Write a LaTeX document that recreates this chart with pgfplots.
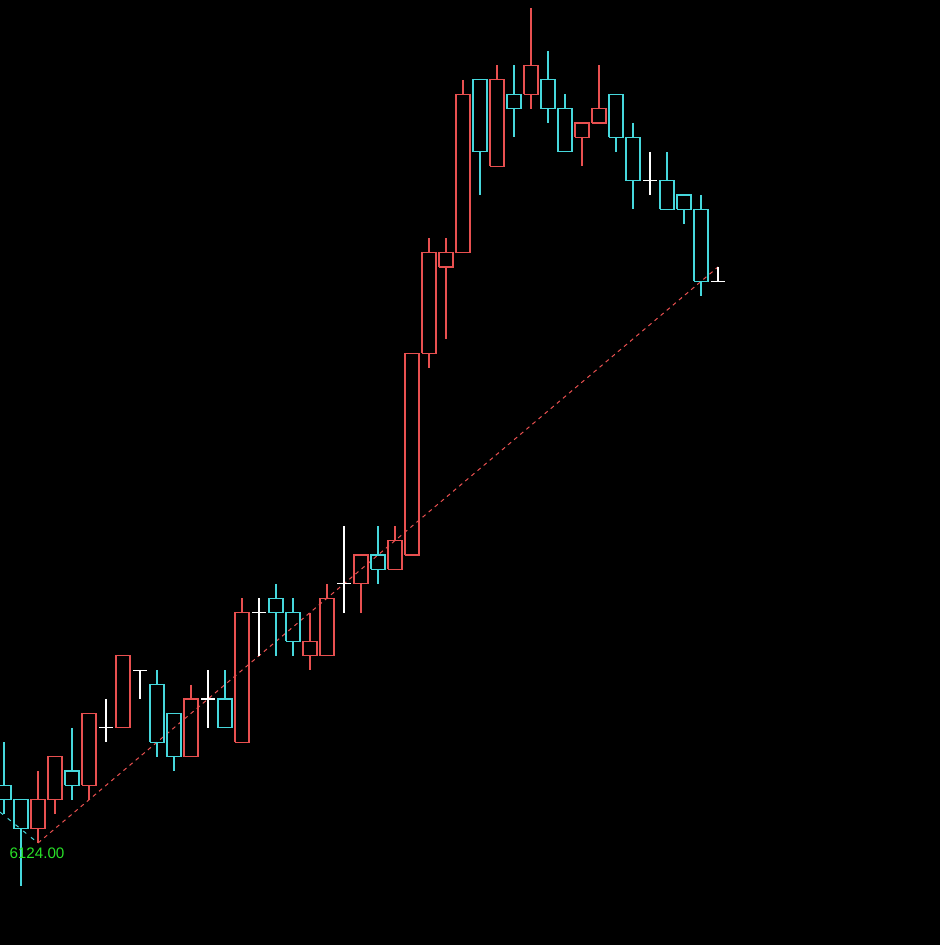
\documentclass[border=0pt]{standalone}
\usepackage{pgfplots}
\usepackage{pgfplotstable}
\pgfplotsset{compat=1.18}
\usepackage{fontspec}
\setmainfont{Liberation Sans}
\definecolor{cred}{RGB}{232,80,80}
\definecolor{ccyan}{RGB}{70,215,220}
\definecolor{cgreen}{RGB}{40,225,40}
\pgfplotstableread{
i o h l c
0 6132 6138 6128 6130
1 6130 6130 6118 6126
2 6126 6134 6124 6130
3 6130 6136 6128 6136
4 6134 6140 6130 6132
5 6132 6142 6130 6142
6 6140 6144 6138 6140
7 6140 6150 6140 6150
8 6148 6148 6144 6148
9 6146 6148 6136 6138
10 6142 6142 6134 6136
11 6136 6146 6136 6144
12 6144 6148 6140 6144
13 6144 6148 6140 6140
14 6138 6158 6138 6156
15 6156 6158 6150 6156
16 6158 6160 6150 6156
17 6156 6158 6150 6152
18 6150 6156 6148 6152
19 6150 6160 6150 6158
20 6160 6168 6156 6160
21 6160 6164 6156 6164
22 6164 6168 6160 6162
23 6162 6168 6162 6166
24 6164 6192 6164 6192
25 6192 6208 6190 6206
26 6204 6208 6194 6206
27 6206 6230 6206 6228
28 6230 6230 6214 6220
29 6218 6232 6218 6230
30 6228 6232 6222 6226
31 6228 6240 6226 6232
32 6230 6234 6224 6226
33 6226 6228 6220 6220
34 6222 6224 6218 6224
35 6224 6232 6224 6226
36 6228 6228 6220 6222
37 6222 6224 6212 6216
38 6216 6220 6214 6216
39 6216 6220 6212 6212
40 6214 6214 6210 6212
41 6212 6214 6200 6202
42 6202 6204 6202 6202
}\candles
\begin{document}
\begin{tikzpicture}
\begin{axis}[
  scale only axis,
  width=470pt, height=472.5pt,
  xmin=-0.2353, xmax=55.06,
  ymin=6109.833, ymax=6241.083,
  axis background/.style={fill=black},
  axis line style={draw=none},
  xtick=\empty, ytick=\empty,
  clip=true,
]
\addplot[cred, dashed, dash pattern=on 2pt off 2pt, line width=0.5pt] coordinates {(2,6124) (42,6204)};
\addplot[ccyan, dash pattern=on 2pt off 3pt, line width=0.5pt] coordinates {(-0.24,6128.3) (2,6124)};
\pgfplotstablegetrowsof{\candles}
\pgfmathtruncatemacro\N{\pgfplotsretval-1}
\pgfplotsforeachungrouped \k in {0,...,\N}{
  \pgfplotstablegetelem{\k}{i}\of\candles \let\ci\pgfplotsretval
  \pgfplotstablegetelem{\k}{o}\of\candles \let\co\pgfplotsretval
  \pgfplotstablegetelem{\k}{h}\of\candles \let\ch\pgfplotsretval
  \pgfplotstablegetelem{\k}{l}\of\candles \let\cl\pgfplotsretval
  \pgfplotstablegetelem{\k}{c}\of\candles \let\cc\pgfplotsretval
  \ifdim\cc pt>\co pt \def\col{cred}\edef\ctop{\cc}\edef\cbot{\co}\else
    \ifdim\cc pt<\co pt \def\col{ccyan}\edef\ctop{\co}\edef\cbot{\cc}\else
      \def\col{white}\edef\ctop{\co}\edef\cbot{\co}\fi\fi
  \pgfmathsetmacro\xl{\ci-0.41}
  \pgfmathsetmacro\xr{\ci+0.41}
  \edef\cmd{%
    \noexpand\addplot[draw=\col, line width=0.65pt] coordinates {(\ci,\ch) (\ci,\ctop)};
    \noexpand\addplot[draw=\col, line width=0.65pt] coordinates {(\ci,\cbot) (\ci,\cl)};
    \noexpand\addplot[draw=\col, line width=0.65pt] coordinates {(\xl,\cbot) (\xr,\cbot) (\xr,\ctop) (\xl,\ctop) (\xl,\cbot)};
  }%
  \cmd
}
\node[text=cgreen, font=\fontsize{7.6}{9}\selectfont, inner sep=0pt] at (axis cs:1.94,6122.6) {6124.00};
\end{axis}
\end{tikzpicture}
\end{document}
